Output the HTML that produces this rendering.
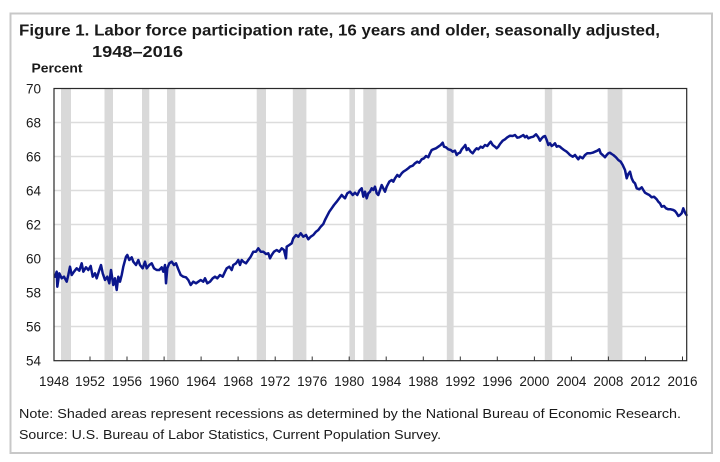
<!DOCTYPE html>
<html>
<head>
<meta charset="utf-8">
<style>
  html,body{margin:0;padding:0;background:#fff;}
  svg{display:block;}
  text{font-family:"Liberation Sans",Arial,sans-serif;fill:#1a1a1a;}
</style>
</head>
<body>
<svg width="720" height="462" viewBox="0 0 720 462" xmlns="http://www.w3.org/2000/svg">
  <rect x="0" y="0" width="720" height="462" fill="#fff"/>
  <!-- outer frame -->
  <rect x="10.5" y="13.5" width="701.5" height="439.5" fill="none" stroke="#c8c8c8" stroke-width="2"/>

  <!-- title -->
  <text x="19" y="35.5" font-size="15.5" font-weight="bold" textLength="641" lengthAdjust="spacingAndGlyphs">Figure 1. Labor force participation rate, 16 years and older, seasonally adjusted,</text>
  <text x="92" y="57" font-size="15.5" font-weight="bold" textLength="91" lengthAdjust="spacingAndGlyphs">1948–2016</text>
  <text x="31.5" y="72.5" font-size="13" font-weight="bold" textLength="51" lengthAdjust="spacingAndGlyphs">Percent</text>

  <!-- gridlines -->
  <g stroke="#dcdcdc" stroke-width="1.5">
    <line x1="54" y1="122.5" x2="687" y2="122.5"/>
    <line x1="54" y1="156.5" x2="687" y2="156.5"/>
    <line x1="54" y1="190.5" x2="687" y2="190.5"/>
    <line x1="54" y1="224.5" x2="687" y2="224.5"/>
    <line x1="54" y1="258.5" x2="687" y2="258.5"/>
    <line x1="54" y1="292.5" x2="687" y2="292.5"/>
    <line x1="54" y1="326.5" x2="687" y2="326.5"/>
  </g>

  <!-- recession shading -->
  <g fill="#d9d9d9">
    <rect x="61" y="88.5" width="10" height="272"/>
    <rect x="104.5" y="88.5" width="8.5" height="272"/>
    <rect x="142" y="88.5" width="7.3" height="272"/>
    <rect x="167" y="88.5" width="8.3" height="272"/>
    <rect x="256.7" y="88.5" width="9.3" height="272"/>
    <rect x="292.8" y="88.5" width="13.6" height="272"/>
    <rect x="349.4" y="88.5" width="5.6" height="272"/>
    <rect x="363.3" y="88.5" width="13.2" height="272"/>
    <rect x="446.8" y="88.5" width="6.8" height="272"/>
    <rect x="544.8" y="88.5" width="7.4" height="272"/>
    <rect x="607.6" y="88.5" width="14.8" height="272"/>
  </g>

  <!-- y labels -->
  <g font-size="13.5" text-anchor="end">
    <text x="41" y="93.5">70</text>
    <text x="41" y="127.5">68</text>
    <text x="41" y="161.5">66</text>
    <text x="41" y="195.5">64</text>
    <text x="41" y="229.5">62</text>
    <text x="41" y="263.5">60</text>
    <text x="41" y="297.5">58</text>
    <text x="41" y="331.5">56</text>
    <text x="41" y="365.5">54</text>
  </g>

  <!-- x ticks -->
  <g stroke="#333" stroke-width="1">
    <line x1="90" y1="360.7" x2="90" y2="356.5"/>
    <line x1="127" y1="360.7" x2="127" y2="356.5"/>
    <line x1="164.1" y1="360.7" x2="164.1" y2="356.5"/>
    <line x1="201.1" y1="360.7" x2="201.1" y2="356.5"/>
    <line x1="238.1" y1="360.7" x2="238.1" y2="356.5"/>
    <line x1="275.2" y1="360.7" x2="275.2" y2="356.5"/>
    <line x1="312.2" y1="360.7" x2="312.2" y2="356.5"/>
    <line x1="349.2" y1="360.7" x2="349.2" y2="356.5"/>
    <line x1="386.2" y1="360.7" x2="386.2" y2="356.5"/>
    <line x1="423.3" y1="360.7" x2="423.3" y2="356.5"/>
    <line x1="460.3" y1="360.7" x2="460.3" y2="356.5"/>
    <line x1="497.3" y1="360.7" x2="497.3" y2="356.5"/>
    <line x1="534.4" y1="360.7" x2="534.4" y2="356.5"/>
    <line x1="571.4" y1="360.7" x2="571.4" y2="356.5"/>
    <line x1="608.4" y1="360.7" x2="608.4" y2="356.5"/>
    <line x1="645.4" y1="360.7" x2="645.4" y2="356.5"/>
    <line x1="682.5" y1="360.7" x2="682.5" y2="356.5"/>
  </g>

  <!-- x labels -->
  <g font-size="13.5" text-anchor="middle">
    <text x="54" y="386">1948</text>
    <text x="90" y="386">1952</text>
    <text x="127" y="386">1956</text>
    <text x="164.1" y="386">1960</text>
    <text x="201.1" y="386">1964</text>
    <text x="238.1" y="386">1968</text>
    <text x="275.2" y="386">1972</text>
    <text x="312.2" y="386">1976</text>
    <text x="349.2" y="386">1980</text>
    <text x="386.2" y="386">1984</text>
    <text x="423.3" y="386">1988</text>
    <text x="460.3" y="386">1992</text>
    <text x="497.3" y="386">1996</text>
    <text x="534.4" y="386">2000</text>
    <text x="571.4" y="386">2004</text>
    <text x="608.4" y="386">2008</text>
    <text x="645.4" y="386">2012</text>
    <text x="682.5" y="386">2016</text>
  </g>

  <!-- data line -->
  <polyline fill="none" stroke="#0b168c" stroke-width="2.5" stroke-linejoin="round" stroke-linecap="round" points="
55.0,276.7 56.7,271.7 57.3,286.7 59.3,273.3 61.7,278.3 64.0,276.7 66.7,281.7 68.3,275.0 70.0,266.7 71.7,275.0
74.0,271.7 76.7,268.3 79.3,270.7 81.7,263.3 83.3,271.7 86.0,267.3 88.3,270.0 90.7,266.0 92.7,276.7 95.0,273.3
96.7,278.3 99.3,270.0 101.0,265.0 102.7,273.3 105.0,280.0 107.3,276.7 109.3,283.3 111.0,270.0 113.3,285.0 115.0,278.3
116.7,290.0 118.3,276.7 120.0,281.7 121.7,275.0 123.3,266.7 126.0,256.7 127.3,255.0 129.3,260.0 131.7,257.3 133.3,261.7
136.0,265.0 138.3,260.0 140.0,265.0 142.7,268.3 145.0,261.7 146.7,268.3 149.3,265.0 151.7,263.3 154.0,268.3 156.7,270.0
159.3,270.0 161.7,267.3 163.3,271.7 165.0,265.0 166.0,283.3 167.3,268.3 169.3,263.3 171.7,261.7 174.0,265.0 176.0,263.3
178.3,269.3 180.7,275.0 183.3,276.7 186.0,277.3 188.3,280.0 190.7,285.0 193.3,281.7 196.0,283.3 198.3,281.7 200.7,280.0
203.3,281.7 205.0,278.3 207.3,283.3 210.0,281.7 212.7,278.3 215.0,276.7 217.3,278.3 220.0,275.0 222.7,276.7 225.0,271.7
226.7,268.3 229.3,266.7 231.7,270.0 233.3,265.0 236.0,263.3 238.3,260.0 240.0,265.0 241.7,260.0 243.3,261.7 246.0,263.3
248.3,260.0 250.7,256.7 253.3,251.7 256.0,251.7 258.3,248.3 260.7,251.7 263.3,251.7 266.0,254.0 268.3,253.3 270.0,258.3
271.7,255.0 274.0,251.7 276.7,250.0 279.3,251.7 281.7,248.3 284.0,250.0 286.0,258.3 286.7,246.7 289.3,245.0 291.7,243.3
293.3,238.3 296.0,235.0 298.3,236.7 300.7,233.3 303.3,236.7 306.0,235.0 308.3,239.3 310.7,236.7 313.3,235.0 316.0,231.7
318.3,230.0 320.7,226.7 323.3,224.0 325.0,220.0 326.7,216.7 329.3,211.7 331.7,208.3 334.0,205.0 336.7,201.7 339.3,198.3
341.7,195.0 343.3,196.7 345.0,198.3 347.3,193.3 350.0,191.7 352.7,195.0 355.0,192.7 357.3,195.0 359.5,190.5
361.7,188.3 363.3,196.7 365.0,191.7 366.7,198.3 368.3,193.3 370.0,191.7 371.7,188.3 373.3,190.0 375.0,186.7 376.7,193.3
378.3,195.0 380.0,190.0 381.7,185.0 383.3,188.3 385.0,191.7 386.7,186.7 389.3,181.7 391.7,180.0 393.3,181.7 395.0,178.3
397.3,175.0 399.3,176.7 401.7,173.3 403.3,171.7 406.0,170.0 408.3,168.3 410.0,166.7 412.7,165.7 415.0,163.3 417.3,161.7
419.3,162.7 421.7,159.3 424.0,158.3 426.0,156.0 428.3,157.3 430.0,153.3 431.7,150.0 433.3,149.3 436.0,148.3 438.3,146.7
440.7,145.0 442.7,142.7 444.0,146.7 446.0,147.3 448.3,149.3 450.7,150.0 452.7,151.7 455.0,150.7 456.7,155.0 458.3,153.3
460.0,152.7 461.7,149.3 464.0,146.7 465.3,145.0 466.7,150.0 468.3,148.3 470.7,151.7 472.7,153.3 475.0,150.0 476.7,148.3
478.3,149.3 480.7,146.7 482.7,147.7 485.0,145.0 487.3,146.0 489.3,143.3 490.7,141.7 492.7,145.0 495.0,146.7 496.7,148.3
498.3,146.7 500.0,144.0 502.7,140.7 505.0,139.3 507.3,137.3 510.0,135.7 512.7,136.0 515.0,135.0 517.3,137.7 519.3,137.3
521.7,136.0 523.3,135.0 525.0,137.3 526.7,136.0 528.3,138.3 530.7,137.3 533.3,136.7 536.0,134.3 538.3,137.3 540.0,140.7
541.7,138.3 543.3,136.7 545.0,136.0 546.7,140.0 548.3,145.0 550.0,143.3 551.7,146.0 553.3,145.0 555.0,143.3 556.7,146.7
558.3,146.0 560.0,146.7 561.7,148.3 564.0,150.0 566.7,151.7 568.3,153.3 570.0,155.0 572.7,156.7 575.0,155.0 576.7,157.3
578.3,159.3 580.0,156.7 582.7,158.3 585.0,155.0 587.3,153.3 590.0,153.3 592.7,152.7 595.0,151.7 597.3,150.7 599.3,149.3
600.7,153.3 602.7,155.0 605.0,157.3 606.7,155.0 608.3,153.3 610.0,152.7 611.7,154.0 613.3,155.0 616.0,157.3 618.3,160.0
620.7,161.7 622.7,165.0 625.0,170.0 626.7,178.3 628.3,174.0 630.0,171.7 631.7,178.3 633.3,181.7 635.0,183.3 636.7,188.3
639.3,189.3 641.7,187.3 643.3,190.0 645.0,192.7 647.3,194.0 649.3,195.0 651.7,197.3 654.0,196.7 656.7,199.3 658.3,201.7
660.0,203.3 661.7,206.7 664.0,206.0 666.0,208.3 668.3,209.3 670.7,209.3 673.3,210.0 675.0,211.0 676.7,213.3 678.3,216.0
680.0,215.0 681.7,213.3 683.3,208.3 685.0,212.7 686.5,215.0"/>

  <!-- plot border -->
  <rect x="54" y="88.5" width="632.7" height="272.2" fill="none" stroke="#2a2a2a" stroke-width="1.2"/>

  <!-- notes -->
  <text x="19" y="418" font-size="12.5" textLength="662" lengthAdjust="spacingAndGlyphs">Note:  Shaded areas represent recessions as determined by the National Bureau of Economic Research.</text>
  <text x="19" y="439" font-size="12.5" textLength="422" lengthAdjust="spacingAndGlyphs">Source: U.S. Bureau of Labor Statistics, Current Population Survey.</text>
</svg>
</body>
</html>
